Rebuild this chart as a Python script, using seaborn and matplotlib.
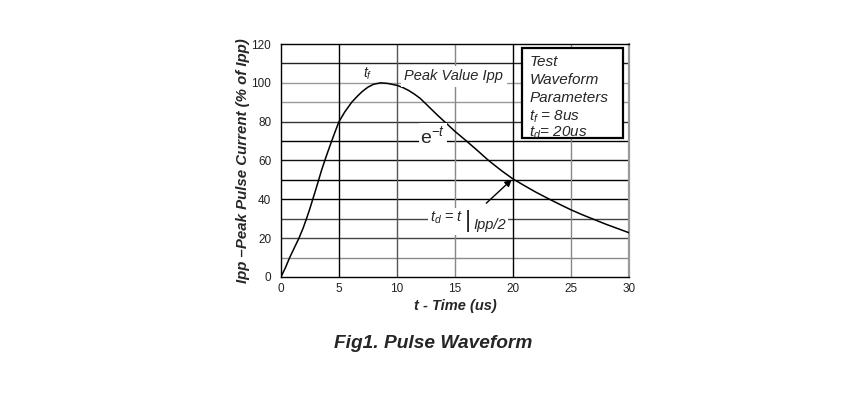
import numpy as np
import pandas as pd
import matplotlib
matplotlib.use("Agg")
import matplotlib.pyplot as plt
from matplotlib.patches import Rectangle
import seaborn as sns

# ---- data ----
time_us = [0, 0.4, 0.75, 1.15, 1.55, 1.9, 2.2, 2.48, 2.74, 3.0, 3.25, 3.5,
           3.78, 4.07, 4.37, 4.68, 5.0, 5.5, 6.1, 6.6, 7.0, 7.5, 8.0, 8.6,
           9.2, 10.0, 10.5, 11.0, 11.5, 12.0, 12.35, 13.0, 13.5, 14.1, 15.0,
           16.0, 17.0, 17.9, 19.0, 20.0, 21.0, 22.0, 23.0, 24.0, 25.0, 26.0,
           27.0, 28.0, 29.0, 30.0]
ipp_pct = [0, 5, 10, 15, 20, 25, 30, 35, 40, 45, 50, 55,
           60, 65, 70, 75, 80, 85, 90, 93.2, 95.5, 97.8, 99.3, 100,
           99.7, 98.7, 97.6, 96.1, 94.2, 92.0, 90.0, 86.2, 83.3, 80.0, 75.0,
           70.0, 64.8, 60.0, 54.8, 50.5, 47.0, 43.6, 40.5, 37.5, 34.6, 32.0,
           29.6, 27.2, 25.0, 22.8]
x_ticks = [0, 5, 10, 15, 20, 25, 30]
y_ticks = [0, 20, 40, 60, 80, 100, 120]
grid_y = [10, 20, 30, 40, 50, 60, 70, 80, 90, 100, 110]
grid_y_col = ['#8a8a8a', '#444444', '#444444', '#000000', '#000000', '#111111',
              '#000000', '#333333', '#999999', '#999999', '#222222']
grid_x = [5, 10, 15, 20, 25]
grid_x_col = ['#000000', '#555555', '#888888', '#000000', '#888888']
box_lines = ["Test", "Waveform", "Parameters", "$t_f$ = 8us", "$t_d$= 20us"]
box_line_y = [110.8, 101.5, 92.3, 82.6, 74.4]

df = pd.DataFrame({"t": time_us, "ipp": ipp_pct})

sns.set_style("white")
plt.rcParams['font.family'] = ['Liberation Sans', 'DejaVu Sans']
plt.rcParams['mathtext.fontset'] = 'custom'
plt.rcParams['mathtext.rm'] = 'Liberation Sans'
plt.rcParams['mathtext.it'] = 'Liberation Sans:italic'
plt.rcParams['mathtext.bf'] = 'Liberation Sans:bold'

fig = plt.figure(figsize=(8.54, 3.99), dpi=100)
ax = fig.add_axes([0.329, 0.3058, 0.4075, 0.5839])

for yv, c in zip(grid_y, grid_y_col):
    ax.axhline(yv, color=c, lw=1.0, zorder=1)
for xv, c in zip(grid_x, grid_x_col):
    ax.axvline(xv, color=c, lw=1.0, zorder=1)

sns.lineplot(data=df, x="t", y="ipp", color="black", lw=1.1, ax=ax, zorder=4)

ax.set_xlim(0, 30)
ax.set_ylim(0, 120)
ax.set_xticks(x_ticks)
ax.set_yticks(y_ticks)
ax.set_yticks(grid_y, minor=True)
ax.tick_params(axis='x', length=0, pad=4, labelsize=8.5, colors='#222222')
ax.tick_params(axis='y', which='both', direction='out', length=3, width=0.8,
               color='#555555', pad=4, labelsize=8.5, labelcolor='#222222')
ax.set_xlabel("t - Time (us)", fontsize=10.5, fontweight='bold', style='italic',
              labelpad=3)
ax.set_ylabel("Ipp \u2013Peak Pulse Current (% of Ipp)", fontsize=10.8,
              fontweight='bold', style='italic', labelpad=1)

for side in ['left', 'top', 'bottom']:
    ax.spines[side].set_color('black')
    ax.spines[side].set_linewidth(1.0)
ax.spines['right'].set_color('#999999')
ax.spines['right'].set_linewidth(1.6)

# annotations
ax.text(7.5, 104.8, "$t_f$", fontsize=10, ha='center', va='center', zorder=5)
ax.text(14.9, 103.3, "Peak Value Ipp", fontsize=10.5, style='italic',
        ha='center', va='center', zorder=5,
        bbox=dict(fc='white', ec='none', pad=2.5))
ax.text(13.1, 72.6, r"$\mathrm{e}^{-t}$", fontsize=14, ha='center',
        va='center', zorder=5,
        bbox=dict(fc='white', ec='none', pad=1.2))

ax.add_patch(Rectangle((12.7, 21.5), 6.9, 14.0, fc='white', ec='none', zorder=2))
ax.text(12.85, 30.6, "$t_d$ = $t$", fontsize=10.5, ha='left', va='center', zorder=5)
ax.text(16.15, 29.0, "|", fontsize=17, ha='center', va='center', zorder=5)
ax.text(16.55, 27.0, "Ipp/2", fontsize=10.5, style='italic', ha='left',
        va='center', zorder=5)
ax.annotate("", xy=(19.9, 50.2), xytext=(17.7, 38.0), zorder=5,
            arrowprops=dict(arrowstyle='-|>', color='black', lw=1.0,
                            mutation_scale=10, shrinkA=0, shrinkB=0))

ax.add_patch(Rectangle((20.75, 71.6), 8.75, 46.3, fc='white', ec='black',
                       lw=1.6, zorder=3))
for s, yv in zip(box_lines, box_line_y):
    ax.text(21.4, yv, s, fontsize=11, style='italic', ha='left',
            va='center', zorder=5)

fig.text(0.507, 0.14, "Fig1. Pulse Waveform", fontsize=13.8,
         fontweight='bold', style='italic', ha='center', va='center')

fig.savefig("out.png", dpi=100, facecolor='white')
